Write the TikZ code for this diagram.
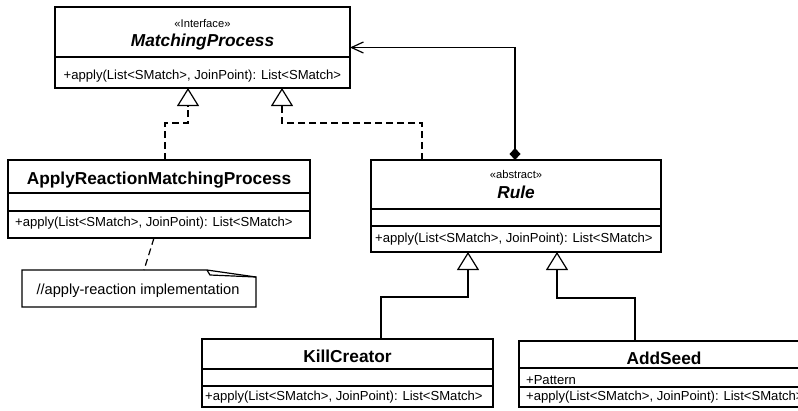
\documentclass[tikz,border=0pt]{standalone}
\usepackage{fontspec}
\setmainfont{Liberation Sans}
\usetikzlibrary{arrows.meta}

\begin{document}
\begin{tikzpicture}[x=1pt,y=-1pt,line width=1.2pt,
  classbox/.style={draw, anchor=north west, inner sep=0pt, outer sep=0pt},
  cname/.style={anchor=base, inner sep=0pt, font=\fontsize{17.3pt}{20pt}\selectfont\bfseries},
  aname/.style={anchor=base, inner sep=0pt, font=\fontsize{17.3pt}{20pt}\selectfont\bfseries\itshape},
  stereo/.style={anchor=base, inner sep=0pt, font=\fontsize{11.2pt}{13pt}\selectfont},
  member/.style={anchor=base west, inner sep=0pt, font=\fontsize{13.1pt}{15pt}\selectfont},
  notetext/.style={anchor=base, inner sep=0pt, font=\fontsize{14.6pt}{17pt}\selectfont},
  umldash/.style={dash pattern=on 7pt off 4pt},
  realize/.style={umldash, -{Triangle[open, length=18pt, width=22pt, line width=1.2pt]}},
  generalize/.style={-{Triangle[open, length=18pt, width=22pt, line width=1.2pt]}},
  compose/.style={{Diamond[length=12pt, width=11pt]}-{Straight Barb[length=12pt, width=11pt, line width=1.2pt]}},
  notelink/.style={umldash}
]
\useasboundingbox (0,0) rectangle (798,410);
\clip (0,0) rectangle (798,410);

% interface MatchingProcess
\node[classbox, minimum width=295pt, minimum height=81pt] (mp) at (55,7) {};
\draw (mp.west |- 0,57) -- (mp.east |- 0,57);
\node[stereo] (mpst) at (202.5,27) {«Interface»};
\node[aname] (mpname) at (202.5,46) {MatchingProcess};
\node[member] (mpop) at (63,79) {+apply(List<SMatch>, JoinPoint): List<SMatch>};

% class ApplyReactionMatchingProcess
\node[classbox, minimum width=302pt, minimum height=78pt] (ar) at (8,160) {};
\draw (ar.west |- 0,193) -- (ar.east |- 0,193);
\draw (ar.west |- 0,211) -- (ar.east |- 0,211);
\node[cname] (arname) at (159,184.3) {ApplyReactionMatchingProcess};
\node[member] (arop) at (14.5,226.3) {+apply(List<SMatch>, JoinPoint): List<SMatch>};

% note attached to ApplyReactionMatchingProcess
\node[anchor=north west, inner sep=0pt, outer sep=0pt, minimum width=234pt, minimum height=37pt] (note) at (22,270) {};
\draw (note.north west) -- ([xshift=-49pt]note.north east) -- ([yshift=-7pt]note.north east)
      -- (note.south east) -- (note.south west) -- cycle;
\draw ([xshift=-49pt]note.north east) -- ([xshift=-46pt,yshift=-5pt]note.north east) -- ([yshift=-7pt]note.north east);
\node[notetext] (notetxt) at (138,294) {//apply-reaction implementation};

% abstract class Rule
\node[classbox, minimum width=290pt, minimum height=92pt] (rule) at (371,160) {};
\draw (rule.west |- 0,209) -- (rule.east |- 0,209);
\draw (rule.west |- 0,226) -- (rule.east |- 0,226);
\node[stereo] (rulest) at (516,178.3) {«abstract»};
\node[aname] (rulename) at (516,198.3) {Rule};
\node[member] (ruleop) at (374.5,242.3) {+apply(List<SMatch>, JoinPoint): List<SMatch>};

% class KillCreator
\node[classbox, minimum width=291pt, minimum height=68pt] (kc) at (202,339) {};
\draw (kc.west |- 0,369) -- (kc.east |- 0,369);
\draw (kc.west |- 0,386) -- (kc.east |- 0,386);
\node[cname] (kcname) at (347.5,362.7) {KillCreator};
\node[member] (kcop) at (204.5,400.6) {+apply(List<SMatch>, JoinPoint): List<SMatch>};

% class AddSeed
\node[classbox, minimum width=293pt, minimum height=66pt] (as) at (519,341) {};
\draw (as.west |- 0,368) -- (as.east |- 0,368);
\draw (as.west |- 0,387) -- (as.east |- 0,387);
\node[cname] (asname) at (664,364.3) {AddSeed};
\node[member] (asattr) at (525.5,384) {+Pattern};
\node[member] (asop) at (525.5,400) {+apply(List<SMatch>, JoinPoint): List<SMatch>};

% relations
\draw[realize] ([xshift=157pt]ar.north west) -- ++(0,-37) -| ([xshift=133pt]mp.south west);
\draw[realize] ([xshift=51pt]rule.north west) -- ++(0,-37) -| ([xshift=227pt]mp.south west);
\draw[generalize] ([xshift=179pt]kc.north west) -- ++(0,-42) -| ([xshift=97pt]rule.south west);
\draw[generalize] ([xshift=116pt]as.north west) -- ++(0,-43) -| ([xshift=186pt]rule.south west);
\draw[compose] ([xshift=144pt]rule.north west) |- (mp.east);
\draw[notelink] ([xshift=146pt]ar.south west) -- ([xshift=122pt]note.north west);
\end{tikzpicture}
\end{document}
